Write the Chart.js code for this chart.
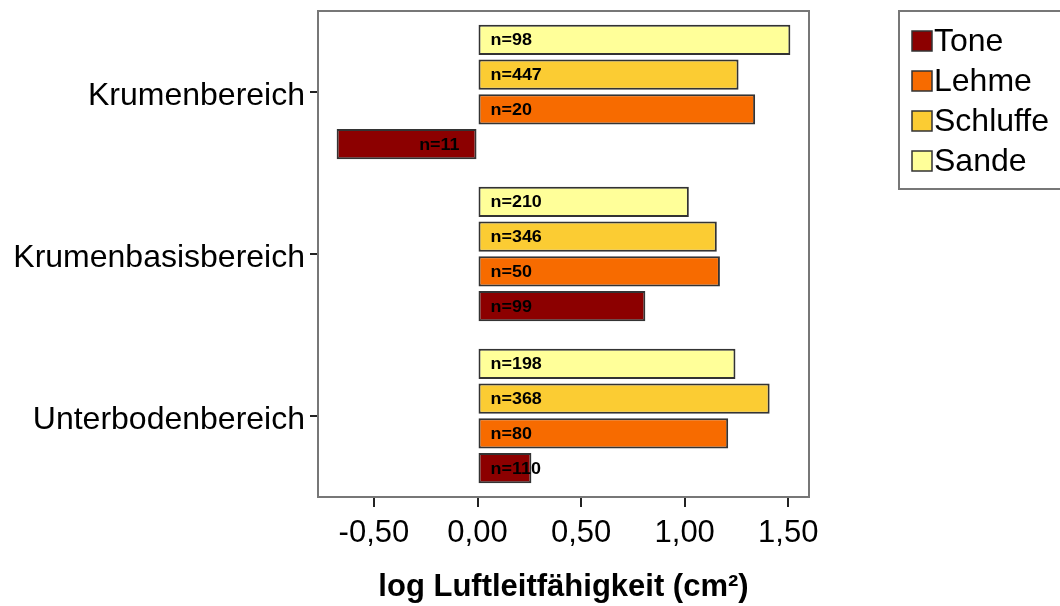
<!DOCTYPE html>
<html>
<head>
<meta charset="utf-8">
<script src="https://cdn.jsdelivr.net/npm/chart.js@4.4.1/dist/chart.umd.min.js"></script>
<style>
  html, body { margin: 0; padding: 0; background: #ffffff; }
  #wrap { position: relative; width: 1060px; height: 606px; }
</style>
</head>
<body>
<div id="wrap"><canvas id="chart"></canvas></div>
<script>
// Soil depth zones and mean log air permeability per soil texture group
const categories = ['Krumenbereich', 'Krumenbasisbereich', 'Unterbodenbereich'];

const tone     = [-0.68, 0.81, 0.26];
const lehme    = [1.34, 1.17, 1.21];
const schluffe = [1.26, 1.155, 1.41];
const sande    = [1.51, 1.02, 1.245];

// sample counts shown inside the bars
const nTone     = [11, 99, 110];
const nLehme    = [20, 50, 80];
const nSchluffe = [447, 346, 368];
const nSande    = [98, 210, 198];

const xTickValues = [-0.5, 0, 0.5, 1.0, 1.5];
const axisTitle = 'log Luftleitfähigkeit (cm²)';

const FONT = "'Liberation Sans', Arial, sans-serif";
const EDGE = '#333333';

// bars are listed top-to-bottom inside each group; the legend lists them bottom-to-top
const datasets = [
  { label: 'Sande',    data: sande,    counts: nSande,    backgroundColor: '#FFFF99' },
  { label: 'Schluffe', data: schluffe, counts: nSchluffe, backgroundColor: '#FBCC33' },
  { label: 'Lehme',    data: lehme,    counts: nLehme,    backgroundColor: '#F76B00' },
  { label: 'Tone',     data: tone,     counts: nTone,     backgroundColor: '#8C0000' }
].map(d => Object.assign(d, {
  borderColor: EDGE,
  borderWidth: 2,
  borderSkipped: false,
  categoryPercentage: 0.859,
  barPercentage: 0.87
}));

// grey frame around the plotting area
const framePlugin = {
  id: 'frame',
  afterDraw(chart) {
    const { ctx, chartArea: a } = chart;
    ctx.save();
    ctx.strokeStyle = '#777777';
    ctx.lineWidth = 2;
    ctx.strokeRect(a.left, a.top, a.right - a.left, a.bottom - a.top);
    ctx.restore();
  }
};

// "n=…" labels anchored at the zero line
const countLabels = {
  id: 'countLabels',
  afterDatasetsDraw(chart) {
    const { ctx } = chart;
    const zero = chart.scales.x.getPixelForValue(0);
    ctx.save();
    ctx.fillStyle = '#000000';
    ctx.font = 'bold 16px ' + FONT;
    ctx.textBaseline = 'middle';
    chart.data.datasets.forEach((ds, i) => {
      const meta = chart.getDatasetMeta(i);
      meta.data.forEach((bar, j) => {
        const v = ds.data[j];
        const text = 'n=' + ds.counts[j];
        ctx.save();
        if (v >= 0) {
          ctx.translate(zero + 13, bar.y + 1);
          ctx.scale(1.12, 1);
          ctx.textAlign = 'left';
        } else {
          ctx.translate(zero - 18, bar.y + 1);
          ctx.scale(1.12, 1);
          ctx.textAlign = 'right';
        }
        ctx.fillText(text, 0, 0);
        ctx.restore();
      });
    });
    ctx.restore();
  }
};

// boxed legend on the right, Tone first
const boxLegend = {
  id: 'boxLegend',
  afterDraw(chart) {
    const { ctx } = chart;
    const items = chart.data.datasets.slice().reverse();
    ctx.save();
    ctx.strokeStyle = '#777777';
    ctx.lineWidth = 2;
    ctx.strokeRect(899, 11, 175, 178);
    ctx.font = '32px ' + FONT;
    ctx.textBaseline = 'middle';
    ctx.textAlign = 'left';
    items.forEach((ds, i) => {
      const cy = 41 + i * 40;
      ctx.fillStyle = ds.backgroundColor;
      ctx.fillRect(912, cy - 10, 20, 20);
      ctx.strokeStyle = EDGE;
      ctx.lineWidth = 1.5;
      ctx.strokeRect(912, cy - 10, 20, 20);
      ctx.fillStyle = '#000000';
      ctx.fillText(ds.label, 934, cy + 1);
    });
    ctx.restore();
  }
};

new Chart(document.getElementById('chart'), {
  type: 'bar',
  data: { labels: categories, datasets },
  options: {
    indexAxis: 'y',
    responsive: true,
    maintainAspectRatio: false,
    animation: false,
    layout: { padding: { top: 11, right: 251, left: 0, bottom: 0 } },
    plugins: { legend: { display: false }, tooltip: { enabled: false } },
    scales: {
      x: {
        type: 'linear',
        min: -0.77,
        max: 1.60,
        afterBuildTicks(scale) { scale.ticks = xTickValues.map(v => ({ value: v })); },
        afterFit(scale) { scale.height = 109; scale.paddingLeft = 0; scale.paddingRight = 0; },
        grid: { drawOnChartArea: false, drawTicks: true, tickLength: 10, color: '#222222', lineWidth: 2 },
        border: { display: false },
        ticks: {
          color: '#000000',
          padding: 8,
          font: { family: FONT, size: 31 },
          callback: v => v.toFixed(2).replace('.', ',')
        },
        title: {
          display: true,
          text: axisTitle,
          color: '#000000',
          font: { family: FONT, size: 31, weight: 'bold', lineHeight: 1 },
          padding: { top: 0, bottom: 3 }
        }
      },
      y: {
        type: 'category',
        afterFit(scale) { scale.width = 318; scale.paddingTop = 0; scale.paddingBottom = 0; },
        grid: { offset: false, drawOnChartArea: false, drawTicks: true, tickLength: 8, color: '#222222', lineWidth: 2 },
        border: { display: false },
        ticks: {
          color: '#000000',
          padding: 5,
          labelOffset: 4,
          font: { family: FONT, size: 32 }
        }
      }
    }
  },
  plugins: [framePlugin, countLabels, boxLegend]
});
</script>
</body>
</html>
